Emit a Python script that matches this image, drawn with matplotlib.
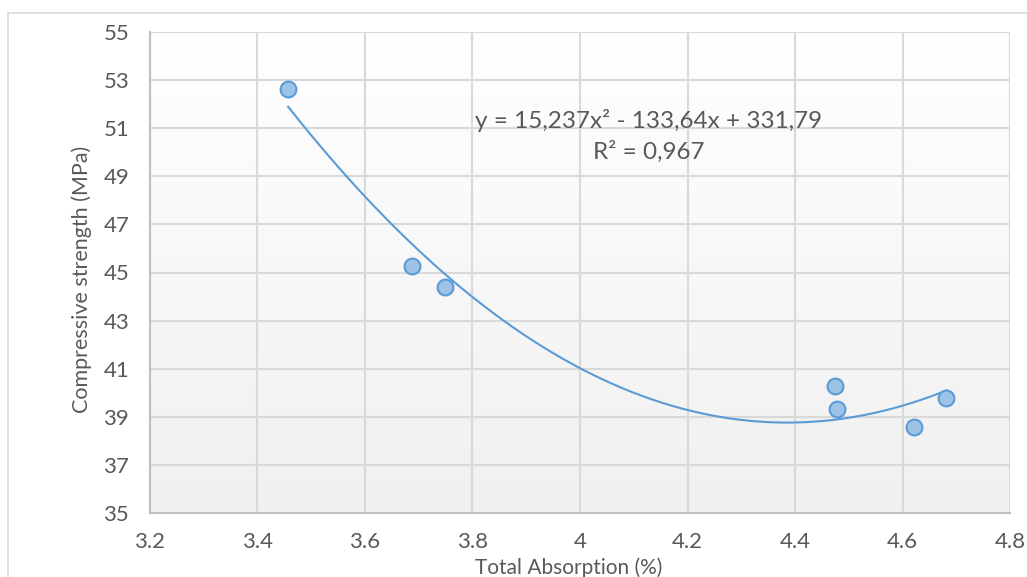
import numpy as np
import matplotlib
matplotlib.use("Agg")
import matplotlib.pyplot as plt
from matplotlib.patches import Rectangle

# --- data ---
absorption = [3.457, 3.687, 3.749, 4.474, 4.478, 4.621, 4.681]
strength = [52.63, 45.27, 44.40, 40.28, 39.32, 38.58, 39.78]
trend_coef = [15.237, -133.64, 331.79]
x_ticks = [3.2, 3.4, 3.6, 3.8, 4.0, 4.2, 4.4, 4.6, 4.8]
x_tick_labels = ["3.2", "3.4", "3.6", "3.8", "4", "4.2", "4.4", "4.6", "4.8"]
y_ticks = list(range(35, 56, 2))
equation_text = "y = 15,237x² - 133,64x + 331,79"
r2_text = "R² = 0,967"

plt.rcParams['font.family'] = ['Lato', 'DejaVu Sans']
text_color = '#595959'
grid_color = '#d9d9d9'

fig = plt.figure(figsize=(10.27, 5.77), dpi=100)
fig.patch.set_facecolor('white')

# outer chart frame (cropped at right / bottom)
fig.patches.append(Rectangle((8 / 1027, -0.1), 1.2, (577 - 13) / 577 + 0.1,
                             transform=fig.transFigure, fill=False,
                             edgecolor=grid_color, linewidth=1.2))

ax = fig.add_axes([150 / 1027, (577 - 513) / 577, 860 / 1027, 481 / 577])

# plot area gradient (white at top -> light grey at bottom)
grad = np.linspace(1, 0, 256).reshape(-1, 1)
ax.imshow(grad, extent=[0, 1, 0, 1], transform=ax.transAxes, aspect='auto',
          cmap=matplotlib.colors.LinearSegmentedColormap.from_list(
              'bg', ['#f0f0f0', '#ffffff']), zorder=0)

ax.set_xlim(3.2, 4.8)
ax.set_ylim(35, 55)
ax.set_xticks(x_ticks)
ax.set_xticklabels(x_tick_labels)
ax.set_yticks(y_ticks)
ax.grid(True, color=grid_color, linewidth=1.5, zorder=1)
ax.set_axisbelow(True)

for side in ['top', 'right']:
    ax.spines[side].set_visible(False)
for side in ['left', 'bottom']:
    ax.spines[side].set_color('#bfbfbf')
    ax.spines[side].set_linewidth(1.5)
ax.tick_params(length=0, labelsize=16, labelcolor=text_color)
ax.tick_params(axis='x', pad=14)
ax.tick_params(axis='y', pad=15)

# polynomial trendline over the data range
xs = np.linspace(min(absorption), max(absorption), 200)
ax.plot(xs, np.polyval(trend_coef, xs), color='#5b9bd5', linewidth=1.5, zorder=3)

ax.scatter(absorption, strength, s=130, color='#9dc3e6', edgecolor='#5b9bd5',
           linewidth=1.5, zorder=4)

ax.text(4.128, 51.3, equation_text, fontsize=17.5, color=text_color,
        ha='center', va='center', zorder=5)
ax.text(4.128, 50.0, r2_text, fontsize=17.5, color=text_color,
        ha='center', va='center', zorder=5)

ax.set_xlabel('Total Absorption (%)', fontsize=15, color=text_color)
ax.set_ylabel('Compressive strength (MPa)', fontsize=15.5, color=text_color)
ax.xaxis.set_label_coords(0.487, -0.093)
ax.yaxis.set_label_coords(-0.068, 0.485)

fig.savefig('out.png', dpi=100)
